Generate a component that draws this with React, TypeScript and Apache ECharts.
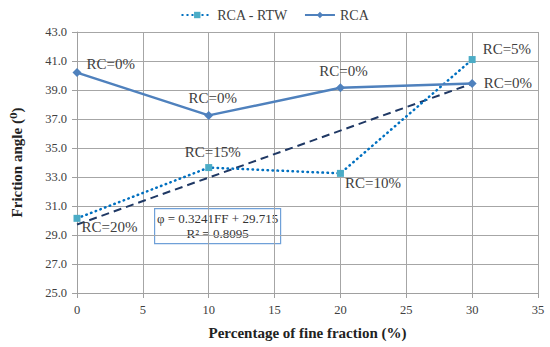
import React, { useEffect, useRef } from "react";
import * as echarts from "echarts";

const xValues = [0, 10, 20, 30];
const rcaValues = [40.2, 37.25, 39.15, 39.45];
const rtwValues = [30.15, 33.65, 33.25, 41.1];
const rcaLabels = ["RC=0%", "RC=0%", "RC=0%", "RC=0%"];
const rtwLabels = ["RC=20%", "RC=15%", "RC=10%", "RC=5%"];
const trendX = [0, 30];
const trendY = [29.72, 39.44];
const equationLines = ["φ = 0.3241FF + 29.715", "R² = 0.8095"];

const FONT = "'Liberation Serif', 'DejaVu Serif', serif";

const rcaLabelPos: any[] = [
  { position: "right", offset: [0, -9] },
  { position: "top", offset: [4, 0] },
  { position: "top", offset: [3, 0] },
  { position: "right", offset: [2, 0] },
];
const rtwLabelPos: any[] = [
  { position: "right", offset: [-4, 9] },
  { position: "top", offset: [4, 0] },
  { position: "right", offset: [-4, 10] },
  { position: "right", offset: [2, -11] },
];

export default function App() {
  const ref = useRef<HTMLDivElement>(null);
  useEffect(() => {
    document.body.style.margin = "0";
    if (!ref.current) return;
    const chart = echarts.init(ref.current, undefined, { renderer: "svg" });
    const labelStyle = { fontFamily: FONT, fontSize: 15, color: "#404040" };
    chart.setOption({
      animation: false,
      backgroundColor: "#fff",
      textStyle: { fontFamily: FONT },
      legend: {
        data: ["RCA - RTW", "RCA"],
        top: 3,
        left: "center",
        itemWidth: 30,
        itemHeight: 8,
        itemGap: 16,
        textStyle: { fontFamily: FONT, fontSize: 14, color: "#404040" },
      },
      grid: { left: 77, top: 32, right: 12, bottom: 54, containLabel: false },
      xAxis: {
        type: "value",
        min: 0,
        max: 35,
        interval: 5,
        name: "Percentage of fine fraction (%)",
        nameLocation: "middle",
        nameGap: 32,
        nameTextStyle: { fontFamily: FONT, fontSize: 15, fontWeight: "bold", color: "#222" },
        axisLine: { lineStyle: { color: "#a0a0a0" } },
        axisTick: { show: true, length: 5, lineStyle: { color: "#a0a0a0" } },
        axisLabel: { fontFamily: FONT, fontSize: 12.5, color: "#404040", margin: 10 },
        splitLine: { show: true, lineStyle: { color: "#a6a6a6" } },
      },
      yAxis: {
        type: "value",
        min: 25,
        max: 43,
        interval: 2,
        name: "Friction angle (⁰)",
        nameLocation: "middle",
        nameGap: 53,
        nameRotate: 90,
        nameTextStyle: { fontFamily: FONT, fontSize: 15, fontWeight: "bold", color: "#222" },
        axisLine: { show: true, lineStyle: { color: "#a0a0a0" } },
        axisTick: { show: true, length: 5, lineStyle: { color: "#a0a0a0" } },
        axisLabel: {
          fontFamily: FONT,
          fontSize: 12.5,
          color: "#404040",
          margin: 10,
          formatter: (v: number) => v.toFixed(1),
        },
        splitLine: { show: true, lineStyle: { color: "#a6a6a6" } },
      },
      series: [
        {
          name: "RCA - RTW",
          type: "line",
          symbol: "rect",
          symbolSize: 7,
          lineStyle: { color: "#0070C0", width: 2.5, type: [0.5, 4.5], cap: "round" },
          itemStyle: { color: "#4BACC6" },
          data: xValues.map((x, i) => ({
            value: [x, rtwValues[i]],
            label: { show: true, formatter: rtwLabels[i], ...labelStyle, ...rtwLabelPos[i] },
          })),
          z: 3,
        },
        {
          name: "RCA",
          type: "line",
          symbol: "diamond",
          symbolSize: 9,
          lineStyle: { color: "#4F81BD", width: 2.5 },
          itemStyle: { color: "#4F81BD" },
          data: xValues.map((x, i) => ({
            value: [x, rcaValues[i]],
            label: { show: true, formatter: rcaLabels[i], ...labelStyle, ...rcaLabelPos[i] },
          })),
          z: 4,
        },
        {
          name: "Trend",
          type: "line",
          symbol: "none",
          lineStyle: { color: "#1F3864", width: 2, type: [8, 5] },
          data: trendX.map((x, i) => [x, trendY[i]]),
          z: 2,
        },
      ],
      graphic: [
        {
          type: "group",
          left: 154,
          top: 208,
          z: 10,
          children: [
            {
              type: "rect",
              shape: { x: 0, y: 0, width: 126, height: 35 },
              style: { fill: "#fff", stroke: "#6FA0D8", lineWidth: 1.2 },
            },
            {
              type: "text",
              x: 63,
              y: 10,
              style: {
                text: equationLines[0],
                fontFamily: FONT,
                fontSize: 13,
                fill: "#333",
                align: "center",
                verticalAlign: "middle",
              },
            },
            {
              type: "text",
              x: 63,
              y: 25,
              style: {
                text: equationLines[1],
                fontFamily: FONT,
                fontSize: 13,
                fill: "#333",
                align: "center",
                verticalAlign: "middle",
              },
            },
          ],
        },
      ],
    });
    return () => chart.dispose();
  }, []);
  return <div ref={ref} style={{ width: 550, height: 347 }} />;
}
